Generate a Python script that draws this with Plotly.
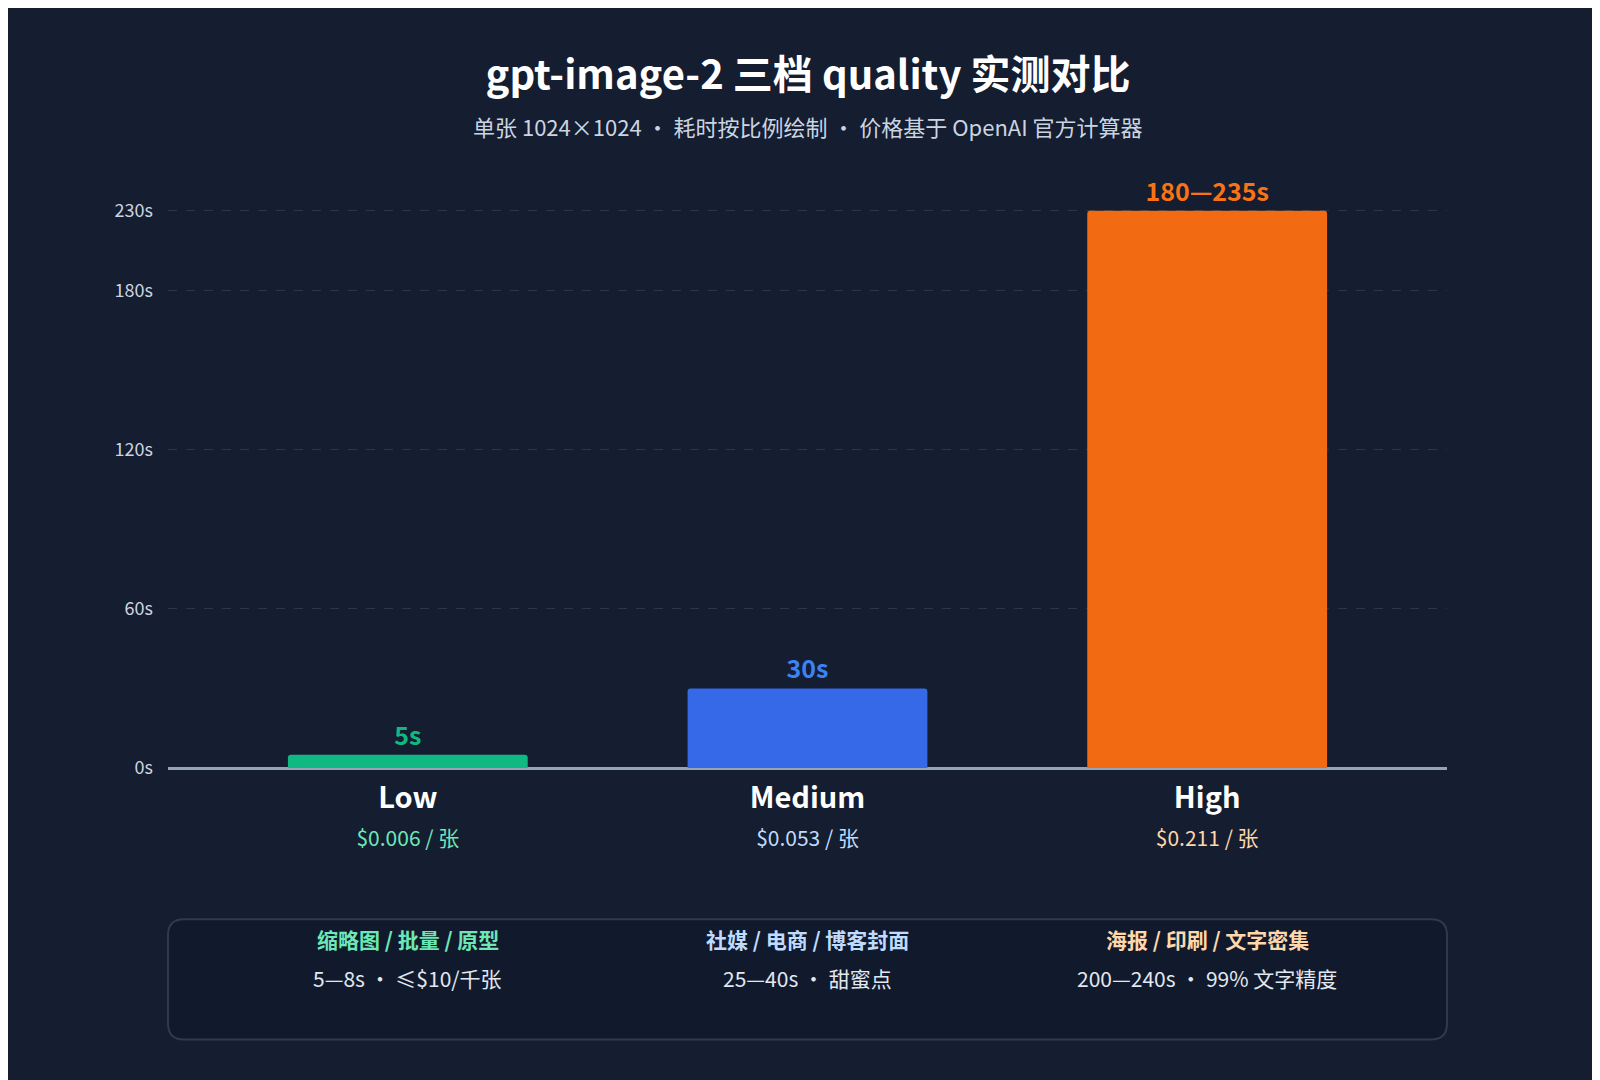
import plotly.graph_objects as go

# data
tiers = ["Low", "Medium", "High"]
seconds = [5, 30, 210]  # High drawn at the top of the shortened axis (shown as 180–235s)
bar_labels = ["<b>5s</b>", "<b>30s</b>", "<b>180—235s</b>"]
prices = ["$0.006 / 张", "$0.053 / 张", "$0.211 / 张"]
use_cases = ["缩略图 / 批量 / 原型", "社媒 / 电商 / 博客封面", "海报 / 印刷 / 文字密集"]
use_details = ["5—8s · ≤$10/千张", "25—40s · 甜蜜点", "200—240s · 99% 文字精度"]
tick_vals = [0, 60, 120, 180, 210]
tick_text = ["0s", "60s", "120s", "180s", "230s"]

bar_colors = ["#10b981", "#3569e8", "#f26b12"]
label_colors = ["#10b981", "#3b82f6", "#f97316"]
price_colors = ["#6ee7b7", "#bfdbfe", "#fed7aa"]
FONT = "Noto Sans CJK SC"

tick_labels = [
    f"<b>{t}</b><br><span style='font-size:21px;color:{c}'>{p}</span>"
    for t, p, c in zip(tiers, prices, price_colors)
]

fig = go.Figure(
    go.Bar(
        x=tiers, y=seconds, width=0.6,
        marker=dict(color=bar_colors, line=dict(width=0), cornerradius=3),
        text=bar_labels, textposition="outside",
        textfont=dict(color=label_colors, size=25, family=FONT),
        cliponaxis=False, hoverinfo="skip",
    )
)

fig.update_layout(
    width=1600, height=1080,
    paper_bgcolor="#151d30", plot_bgcolor="rgba(0,0,0,0)",
    margin=dict(l=160, r=161, t=200, b=320),
    font=dict(family=FONT, color="#e2e8f0"),
    showlegend=False,
    title=dict(
        text="<b>gpt-image-2 三档 quality 实测对比</b>",
        x=0.5, xanchor="center", y=0.938, yanchor="middle",
        font=dict(size=40, color="#ffffff", family=FONT),
    ),
    xaxis=dict(
        tickvals=tiers, ticktext=tick_labels, showgrid=False, ticks="",
        tickfont=dict(size=29, color="#ffffff", family=FONT),
        showline=False, zeroline=False, range=[-0.6, 2.6],
        ticklabelstandoff=10,
    ),
    yaxis=dict(
        range=[0, 211], tickvals=tick_vals, ticktext=tick_text,
        showgrid=True, gridcolor="#2c3648", griddash="dash", gridwidth=1,
        zeroline=True, zerolinecolor="#94a3b8", zerolinewidth=3,
        tickfont=dict(size=18, color="#cbd5e1"), ticks="", ticklabelstandoff=14,
    ),
)

fig.add_annotation(
    text="单张 1024×1024 · 耗时按比例绘制 · 价格基于 OpenAI 官方计算器",
    xref="paper", yref="paper", x=0.5, y=1.178,
    showarrow=False, font=dict(size=22, color="#cbd5e1"),
)

# bottom info box (rounded rectangle)
x0, x1, y0, y1 = 0, 1, -0.485, -0.27
rx, ry = 0.0125, 0.0286
path = (
    f"M {x0+rx},{y1} L {x1-rx},{y1} Q {x1},{y1} {x1},{y1-ry} "
    f"L {x1},{y0+ry} Q {x1},{y0} {x1-rx},{y0} L {x0+rx},{y0} "
    f"Q {x0},{y0} {x0},{y0+ry} L {x0},{y1-ry} Q {x0},{y1} {x0+rx},{y1} Z"
)
fig.add_shape(type="path", path=path, xref="paper", yref="paper",
              fillcolor="#111a2c", line=dict(color="#2e3a50", width=2), layer="below")

for t, head, detail, c in zip(tiers, use_cases, use_details, price_colors):
    fig.add_annotation(text=f"<b>{head}</b>", x=t, xref="x", yref="paper",
                       y=-0.335, showarrow=False,
                       font=dict(size=21, color=c))
    fig.add_annotation(text=detail, x=t, xref="x", yref="paper",
                       y=-0.405, showarrow=False,
                       font=dict(size=21, color="#e2e8f0"))

fig.write_html("out.html")
